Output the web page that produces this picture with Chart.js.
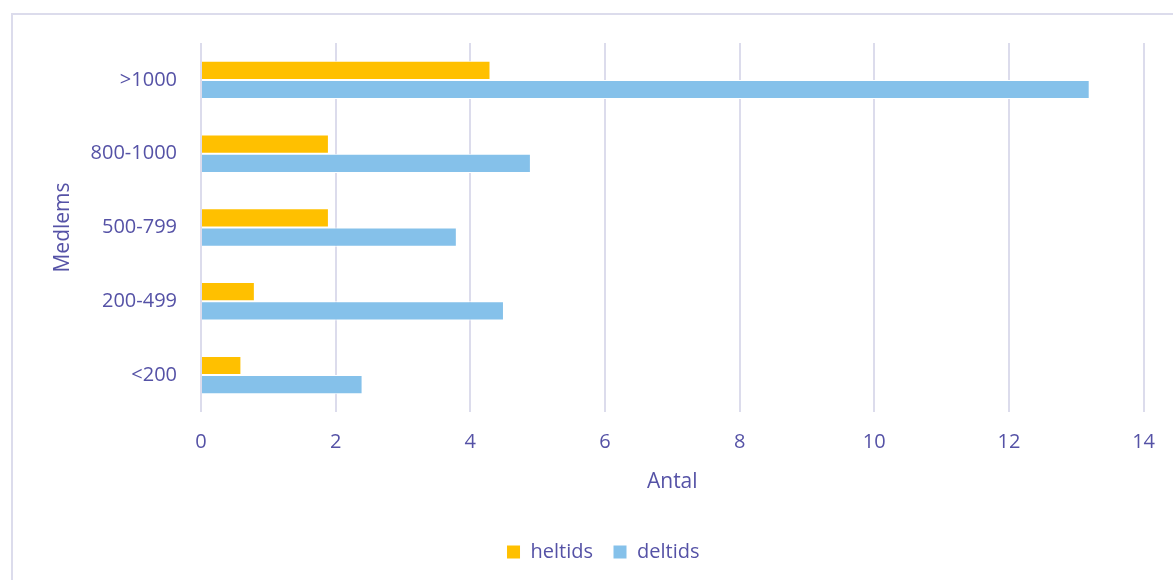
<!DOCTYPE html>
<html>
<head>
<meta charset="utf-8">
<script src="https://cdn.jsdelivr.net/npm/chart.js@4"></script>
<style>
  body { margin: 0; background: #ffffff; }
  #box {
    position: absolute; left: 11px; top: 13px;
    width: 1160px; height: 565px;
    border: 2px solid #DCDCEC;
  }
</style>
</head>
<body>
<div id="box"><canvas id="chart" width="1160" height="565"></canvas></div>
<script>
const categories = ['>1000', '800-1000', '500-799', '200-499', '<200'];
const heltids = [4.3, 1.9, 1.9, 0.8, 0.6];
const deltids = [13.2, 4.9, 3.8, 4.5, 2.4];
const xTicks = [0, 2, 4, 6, 8, 10, 12, 14];

const textColor = '#5552A6';
const gridColor = '#DCDCEC';
const fontFamily = '"Open Sans", sans-serif';

const ctx = document.getElementById('chart').getContext('2d');

new Chart(ctx, {
    type: 'bar',
    data: {
        labels: categories,
        datasets: [{
            label: 'heltids',
            data: heltids,
            backgroundColor: '#FFC000',
            borderColor: '#ffffff',
            borderWidth: 1,
            categoryPercentage: 0.52,
            barPercentage: 1
        }, {
            label: 'deltids',
            data: deltids,
            backgroundColor: '#85C1EA',
            borderColor: '#ffffff',
            borderWidth: 1,
            categoryPercentage: 0.52,
            barPercentage: 1
        }]
    },
    options: {
        indexAxis: 'y',
        responsive: false,
        animation: false,
        layout: {
            // left padding nudges the legend to the right like the original
            padding: { top: 26, right: 22, left: 42, bottom: 8 }
        },
        plugins: {
            tooltip: { enabled: false },
            legend: {
                position: 'bottom',
                labels: {
                    color: textColor,
                    boxWidth: 14,
                    boxHeight: 14,
                    padding: 20,
                    font: { family: fontFamily, size: 20 }
                }
            }
        },
        scales: {
            x: {
                min: 0,
                max: 14,
                afterBuildTicks: (axis) => {
                    axis.ticks = xTicks.map(v => ({ value: v }));
                },
                afterFit: (axis) => { axis.height = 110; },
                grid: { color: gridColor, lineWidth: 2, drawTicks: false },
                border: { display: false },
                ticks: {
                    color: textColor,
                    padding: 18,
                    font: { family: fontFamily, size: 20 }
                },
                title: {
                    display: true,
                    text: 'Antal',
                    color: textColor,
                    padding: { top: 0, bottom: 27 },
                    font: { family: fontFamily, size: 21 }
                }
            },
            y: {
                afterFit: (axis) => { axis.width = 146; },
                grid: { display: false },
                border: { display: false },
                ticks: {
                    color: textColor,
                    padding: 16,
                    font: { family: fontFamily, size: 20 }
                },
                title: {
                    display: true,
                    text: 'Medlems',
                    color: textColor,
                    padding: { top: -5 },
                    font: { family: fontFamily, size: 21 }
                }
            }
        }
    }
});
</script>
</body>
</html>
